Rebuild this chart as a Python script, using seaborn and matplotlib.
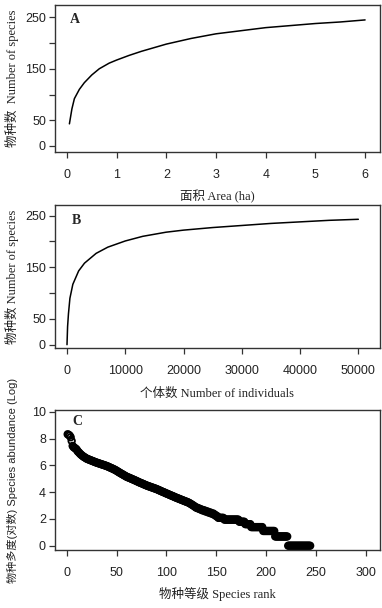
import numpy as np
import pandas as pd
import matplotlib
matplotlib.use("Agg")
import matplotlib.pyplot as plt
import seaborn as sns

# ---- Data ----
area_ha = [0.05, 0.1, 0.15, 0.25, 0.35, 0.5, 0.65, 0.85, 1.0, 1.25, 1.5, 1.75,
           2.0, 2.5, 3.0, 3.5, 4.0, 4.5, 5.0, 5.5, 6.0]
species_area = [43, 72, 92, 110, 123, 138, 150, 161, 167, 176, 184, 191,
                198, 209, 218, 224, 230, 234, 238, 241, 245]

individuals = [0, 100, 250, 500, 1000, 2000, 3000, 5000, 7000, 10000, 13000,
               17000, 20000, 25000, 30000, 35000, 40000, 45000, 50000]
species_ind = [0, 35, 60, 90, 117, 143, 158, 177, 189, 201, 210,
               218, 222, 227, 231, 235, 238, 241, 243]

log_abundance = [
    8.32, 8.28, 8.22, 8.10, 7.82, 7.45, 7.35, 7.30, 7.25, 7.18, 7.05, 6.98,
    6.90, 6.82, 6.76, 6.70, 6.64, 6.60, 6.55, 6.50,
    6.47, 6.44, 6.41, 6.38, 6.35, 6.32, 6.29, 6.26, 6.23, 6.20,
    6.18, 6.15, 6.13, 6.10, 6.08, 6.05, 6.03, 6.00, 5.98, 5.95,
    5.92, 5.89, 5.85, 5.82, 5.79, 5.75, 5.72, 5.68, 5.64, 5.60,
    5.55, 5.50, 5.46, 5.41, 5.37, 5.33, 5.28, 5.24, 5.20, 5.15,
    5.12, 5.09, 5.06, 5.03, 4.99, 4.96, 4.93, 4.90, 4.86, 4.83,
    4.79, 4.76, 4.72, 4.69, 4.66, 4.63, 4.60, 4.56, 4.53, 4.50,
    4.47, 4.44, 4.42, 4.39, 4.36, 4.34, 4.31, 4.28, 4.26, 4.23,
    4.20, 4.16, 4.13, 4.10, 4.06, 4.03, 4.00, 3.97, 3.93, 3.90,
    3.87, 3.84, 3.80, 3.77, 3.74, 3.71, 3.68, 3.64, 3.61, 3.58,
    3.55, 3.52, 3.49, 3.46, 3.43, 3.40, 3.37, 3.34, 3.31, 3.28,
    3.26, 3.22, 3.18, 3.14, 3.09, 3.04, 3.00, 2.94, 2.89, 2.83,
    2.83, 2.77, 2.77, 2.71, 2.71, 2.64, 2.64, 2.64, 2.56, 2.56,
    2.56, 2.48, 2.48, 2.48, 2.40, 2.40, 2.40, 2.30, 2.30, 2.20, 2.20,
    2.08, 2.08, 2.08, 2.08, 2.08, 2.08,
    1.95, 1.95, 1.95, 1.95, 1.95, 1.95, 1.95, 1.95, 1.95, 1.95, 1.95, 1.95, 1.95, 1.95, 1.95,
    1.79, 1.79, 1.79, 1.79, 1.79, 1.79,
    1.61, 1.61, 1.61, 1.61, 1.61, 1.61,
    1.39, 1.39, 1.39, 1.39, 1.39, 1.39, 1.39, 1.39, 1.39, 1.39, 1.39, 1.39,
    1.10, 1.10, 1.10, 1.10, 1.10, 1.10, 1.10, 1.10, 1.10, 1.10, 1.10, 1.10,
    0.69, 0.69, 0.69, 0.69, 0.69, 0.69, 0.69, 0.69, 0.69, 0.69, 0.69, 0.69, 0.69,
    0.00, 0.00, 0.00, 0.00, 0.00, 0.00, 0.00, 0.00, 0.00, 0.00, 0.00, 0.00,
    0.00, 0.00, 0.00, 0.00, 0.00, 0.00, 0.00, 0.00, 0.00, 0.00, 0.00,
]
species_rank = list(range(1, len(log_abundance) + 1))

ytick_species = [0, 50, 100, 150, 200, 250]
ytick_species_labels = ["0", "50", "", "150", "", "250"]
xtick_area = [0, 1, 2, 3, 4, 5, 6]
xtick_ind = [0, 10000, 20000, 30000, 40000, 50000]
xtick_rank = [0, 50, 100, 150, 200, 250, 300]
ytick_log = [0, 2, 4, 6, 8, 10]

# ---- Style ----
sns.set_style("ticks")
plt.rcParams["font.family"] = ["Liberation Sans", "Noto Sans CJK SC"]
plt.rcParams["axes.edgecolor"] = "#333333"
plt.rcParams["axes.linewidth"] = 1.0
plt.rcParams["xtick.color"] = "#333333"
plt.rcParams["ytick.color"] = "#333333"
plt.rcParams["xtick.labelcolor"] = "#222222"
plt.rcParams["ytick.labelcolor"] = "#222222"

SERIF = ["Liberation Serif", "Noto Sans CJK SC"]
SANS = ["Liberation Sans", "Noto Sans CJK SC"]

W, H = 382, 608
fig = plt.figure(figsize=(W / 100, H / 100), dpi=100)


def add_ax(left, top, right, bottom):
    return fig.add_axes([left / W, 1 - bottom / H, (right - left) / W, (bottom - top) / H])


axA = add_ax(55, 5, 380, 152)
axB = add_ax(55, 205, 380, 348)
axC = add_ax(55, 410, 380, 550)

dfA = pd.DataFrame({"area": area_ha, "species": species_area})
dfB = pd.DataFrame({"ind": individuals, "species": species_ind})
dfC = pd.DataFrame({"rank": species_rank, "logab": log_abundance})

sns.lineplot(data=dfA, x="area", y="species", ax=axA, color="black", linewidth=1.1)
sns.lineplot(data=dfB, x="ind", y="species", ax=axB, color="black", linewidth=1.1)
sns.scatterplot(data=dfC, x="rank", y="logab", ax=axC, marker="o",
                facecolors="none", edgecolor="black", linewidth=1.3, s=22)

axA.set_xlim(-0.24, 6.30)
axA.set_ylim(-11.7, 274)
axB.set_xlim(-2060, 53720)
axB.set_ylim(-6.4, 270.7)
axC.set_xlim(-11.7, 314)
axC.set_ylim(-0.32, 10.13)

axA.set_xticks(xtick_area)
axA.set_xticklabels([str(v) for v in xtick_area])
axA.set_yticks(ytick_species)
axA.set_yticklabels(ytick_species_labels)
axB.set_xticks(xtick_ind)
axB.set_xticklabels([str(v) for v in xtick_ind])
axB.set_yticks(ytick_species)
axB.set_yticklabels(ytick_species_labels)
axC.set_xticks(xtick_rank)
axC.set_xticklabels([str(v) for v in xtick_rank])
axC.set_yticks(ytick_log)
axC.set_yticklabels([str(v) for v in ytick_log])

for ax in (axA, axB, axC):
    for s in ax.spines.values():
        s.set_visible(True)
    ax.tick_params(axis="x", length=4, width=0.9, pad=8, labelsize=9)
    ax.tick_params(axis="y", length=4, width=0.9, pad=2.5, labelsize=9)

axA.set_xlabel("面积 Area (ha)", family=SERIF, fontsize=9, color="#222222")
axA.set_ylabel("物种数  Number of species", family=SERIF, fontsize=9, color="#222222", va="center")
axB.set_xlabel("个体数 Number of individuals", family=SERIF, fontsize=9, color="#222222")
axB.set_ylabel("物种数 Number of species", family=SERIF, fontsize=9, color="#222222", va="center")
axC.set_xlabel("物种等级 Species rank", family=SERIF, fontsize=9, color="#222222")
axC.set_ylabel("物种多度(对数) Species abundance (Log)", family=SANS, fontsize=8, color="#222222", va="center")

axA.xaxis.set_label_coords(0.5, -0.259)
axB.xaxis.set_label_coords(0.5, -0.28)
axC.xaxis.set_label_coords(0.5, -0.264)
axA.yaxis.set_label_coords(-0.132, 0.5)
axB.yaxis.set_label_coords(-0.132, 0.5)
axC.yaxis.set_label_coords(-0.132, 0.5)

axA.text(0.046, 0.9, "A", transform=axA.transAxes, family=SERIF, fontweight="bold",
         fontsize=10, va="center", ha="left")
axB.text(0.052, 0.895, "B", transform=axB.transAxes, family=SERIF, fontweight="bold",
         fontsize=10, va="center", ha="left")
axC.text(0.052, 0.92, "C", transform=axC.transAxes, family=SERIF, fontweight="bold",
         fontsize=10, va="center", ha="left")

fig.savefig("out.png", dpi=100)
